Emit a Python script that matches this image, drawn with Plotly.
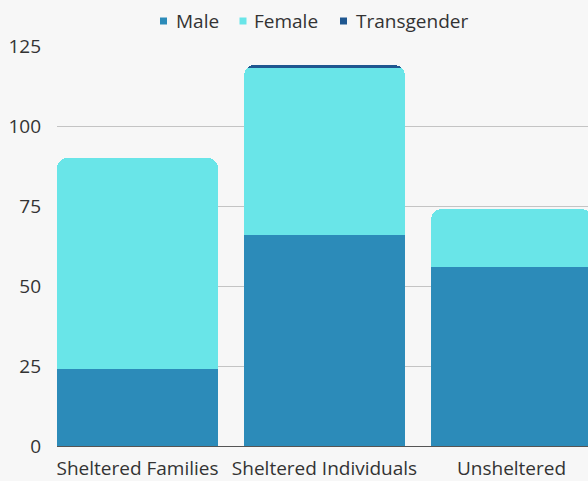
import plotly.graph_objects as go

categories = ["Sheltered Families", "Sheltered Individuals", "Unsheltered"]
male = [24, 66, 56]
female = [66, 52, 18]
transgender = [0, 1, 0]
y_ticks = [0, 25, 50, 75, 100, 125]

colors = {"Male": "#2c8bb9", "Female": "#69e5e8", "Transgender": "#1f5790"}
series = [("Male", male), ("Female", female), ("Transgender", transgender)]

W, H = 588, 481
ML, MR, MT, MB = 57, 0, 46, 35
PW, PH = W - ML - MR, H - MT - MB


def px_x(p):
    return (p - ML) / PW


def px_y(p):
    return (H - MB - p) / PH


fig = go.Figure()
xs = list(range(len(categories)))
for name, vals in series:
    fig.add_trace(go.Bar(
        x=xs, y=[v if v else None for v in vals], name=name,
        marker=dict(color=colors[name], line=dict(width=0)),
        width=0.861, showlegend=False,
    ))

# custom legend (squares + labels) positioned in pixel terms
legend_pos = [(160, 175), (239.5, 253), (340, 355)]
for (name, _), (sx, tx) in zip(series, legend_pos):
    fig.add_shape(type="rect", xref="paper", yref="paper",
                  x0=px_x(sx), x1=px_x(sx + 7), y0=px_y(24.5), y1=px_y(17.5),
                  fillcolor=colors[name], line=dict(width=0))
    fig.add_annotation(text=name, xref="paper", yref="paper",
                       x=px_x(tx), y=px_y(20.5), xanchor="left", yanchor="middle",
                       showarrow=False, font=dict(size=19, color="#333333"),
                       xshift=-1)

fig.update_layout(
    width=W, height=H,
    barmode="stack", barcornerradius=10,
    paper_bgcolor="#f7f7f7", plot_bgcolor="#f7f7f7",
    font=dict(family="Open Sans", size=19, color="#333333"),
    margin=dict(l=ML, r=MR, t=MT, b=MB),
    showlegend=False,
    xaxis=dict(tickmode="array", tickvals=xs, ticktext=categories,
               range=[-0.4305, 2.409], showgrid=False, showline=True,
               linecolor="#555555", linewidth=1, ticks="", zeroline=False,
               ticklabelstandoff=5),
    yaxis=dict(range=[0, 125], tickvals=y_ticks, showgrid=True,
               gridcolor="#c4c4c4", gridwidth=1, zeroline=False,
               ticks="", ticklabelstandoff=15),
)
fig.write_html(
    "out.html",
    config={"displayModeBar": False},
    post_script="document.body.style.margin='0';document.body.style.background='#f7f7f7';",
)
